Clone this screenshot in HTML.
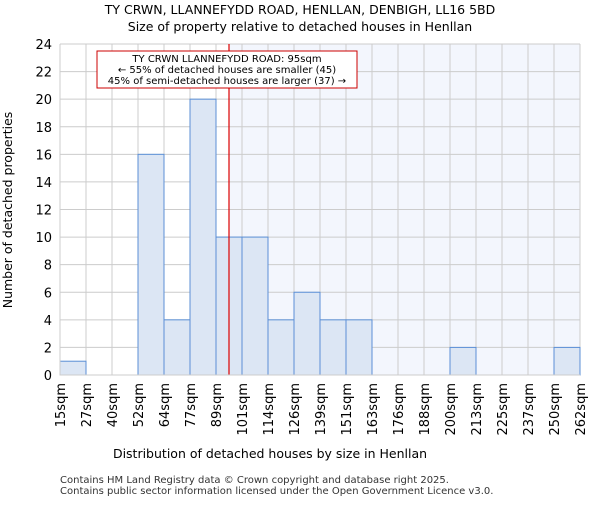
<!DOCTYPE html>
<html><head><meta charset="utf-8"><style>body{margin:0;background:#fff}svg{font-family:"DejaVu Sans","Liberation Sans",sans-serif}</style></head>
<body>
<svg id="c" width="600" height="500" xmlns="http://www.w3.org/2000/svg">
<text x="300" y="14" text-anchor="middle" font-size="12.5">TY CRWN, LLANNEFYDD ROAD, HENLLAN, DENBIGH, LL16 5BD</text>
<text x="300" y="31" text-anchor="middle" font-size="12.5">Size of property relative to detached houses in Henllan</text>
<g id="plot"></g>
<text x="270" y="458" text-anchor="middle" font-size="12.5">Distribution of detached houses by size in Henllan</text>
<text transform="translate(12,210) rotate(-90)" text-anchor="middle" font-size="12.5">Number of detached properties</text>
<text x="60" y="483" font-size="10" fill="#333">Contains HM Land Registry data © Crown copyright and database right 2025.</text>
<text x="60" y="494" font-size="10" fill="#333">Contains public sector information licensed under the Open Government Licence v3.0.</text>
</svg>
<script>
const xLabels=["15sqm","27sqm","40sqm","52sqm","64sqm","77sqm","89sqm","101sqm","114sqm","126sqm","139sqm","151sqm","163sqm","176sqm","188sqm","200sqm","213sqm","225sqm","237sqm","250sqm","262sqm"];
const counts=[1,0,0,16,4,20,10,10,4,6,4,4,0,0,0,2,0,0,0,2];
const yTicks=[0,2,4,6,8,10,12,14,16,18,20,22,24];
const markerBin=6.5;
const L=60,R=580,T=44,B=375,yMax=24;
const bw=(R-L)/counts.length;
const xs=i=>L+i*bw;
const ys=v=>B-(v/yMax)*(B-T);
const NS="http://www.w3.org/2000/svg";
const g=document.getElementById('plot');
function mk(t,a,p){const e=document.createElementNS(NS,t);for(const k in a)e.setAttribute(k,a[k]);(p||g).appendChild(e);return e;}
const mx=xs(markerBin);
const bg=mk('rect',{x:mx,y:T,width:R-mx,height:B-T,fill:'#f3f6fd'});


yTicks.forEach(v=>{
  const l=mk('line',{x1:L,x2:R,y1:ys(v),y2:ys(v),stroke:'#ccc','stroke-width':1});
  
  
  const t=mk('text',{x:L-8,y:ys(v)+5,'text-anchor':'end','font-size':13});
  t.textContent=v;
  
  
});
xLabels.forEach((s,i)=>{
  const l=mk('line',{x1:xs(i),x2:xs(i),y1:T,y2:B,stroke:'#ccc','stroke-width':1});
  
  
  const t=mk('text',{transform:`translate(${xs(i)+5},${B+8}) rotate(-90)`,'text-anchor':'end','font-size':13});
  t.textContent=s;
  
  
});
counts.forEach((v,i)=>{
  if(!v)return;
  const r=mk('rect',{x:xs(i),y:ys(v),width:bw,height:B-ys(v),fill:'#dce6f4',stroke:'#5b8fd6','stroke-width':1});
  
  
});
const ml=mk('line',{x1:mx,x2:mx,y1:T,y2:B,stroke:'#d00','stroke-width':1.2});


const box=mk('rect',{x:97,y:51,width:260,height:37,fill:'#fff',stroke:'#c00','stroke-width':1});


["TY CRWN LLANNEFYDD ROAD: 95sqm","← 55% of detached houses are smaller (45)","45% of semi-detached houses are larger (37) →"].forEach((s,i)=>{
  const t=mk('text',{x:227,y:62+i*11,'text-anchor':'middle','font-size':10});
  t.textContent=s;
  
  
});
const ax=mk('path',{d:`M${L},${T}V${B}H${R}`,fill:'none',stroke:'#ccc'});


</script>
</body></html>
